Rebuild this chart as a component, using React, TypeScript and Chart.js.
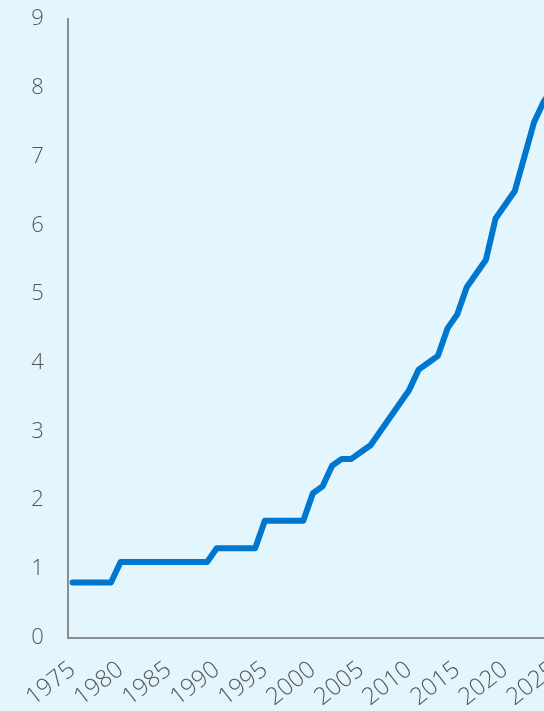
import React, { useEffect, useRef } from "react";
import { Chart, registerables } from "chart.js";

Chart.register(...registerables);

const years: string[] = [];
for (let y = 1975; y <= 2025; y++) years.push(String(y));

const values: number[] = [
  0.8, 0.8, 0.8, 0.8, 0.8, // 1975-1979
  1.1, 1.1, 1.1, 1.1, 1.1, 1.1, 1.1, 1.1, 1.1, 1.1, // 1980-1989
  1.3, 1.3, 1.3, 1.3, 1.3, // 1990-1994
  1.7, 1.7, 1.7, 1.7, 1.7, // 1995-1999
  2.1, 2.2, 2.5, 2.6, 2.6, // 2000-2004
  2.7, 2.8, 3.0, 3.2, 3.4, // 2005-2009
  3.6, 3.9, 4.0, 4.1, 4.5, // 2010-2014
  4.7, 5.1, 5.3, 5.5, 6.1, // 2015-2019
  6.3, 6.5, 7.0, 7.5, 7.8, // 2020-2024
  8.0, // 2025
];

const yMin = 0;
const yMax = 9;

const FAMILY = "'Open Sans', 'Noto Sans', sans-serif";
const Y_FONT = { family: FAMILY, size: 22, weight: 300 as any };
const X_FONT = { family: FAMILY, size: 24, weight: 300 as any };

export default function App() {
  const ref = useRef<HTMLCanvasElement | null>(null);

  useEffect(() => {
    if (!ref.current) return;
    const chart = new Chart(ref.current, {
      type: "line",
      data: {
        labels: years,
        datasets: [
          {
            data: values,
            borderColor: "#0077CF",
            borderWidth: 6,
            borderCapStyle: "round",
            borderJoinStyle: "round",
            pointRadius: 0,
            tension: 0,
            fill: false,
          },
        ],
      },
      options: {
        animation: false,
        responsive: true,
        maintainAspectRatio: false,
        layout: { padding: { left: 31, top: 0, right: 0, bottom: 0 } },
        plugins: { legend: { display: false }, tooltip: { enabled: false } },
        scales: {
          x: {
            type: "category",
            offset: true,
            grid: { display: false, drawTicks: false },
            border: { display: true, color: "#8c8c8c", width: 2 },
            ticks: {
              autoSkip: false,
              minRotation: 38,
              maxRotation: 38,
              padding: 18,
              color: "#555",
              font: X_FONT,
              callback: function (_v: any, i: number) {
                const y = Number(years[i]);
                return y % 5 === 0 ? years[i] : null;
              },
            },
          },
          y: {
            min: yMin,
            max: yMax,
            grid: { display: false, drawTicks: false },
            border: { display: true, color: "#8c8c8c", width: 2 },
            afterFit: (scale: any) => {
              scale.width = 36.7;
            },
            ticks: {
              stepSize: 1,
              padding: 24,
              color: "#555",
              font: Y_FONT,
            },
          },
        },
      },
    });
    return () => chart.destroy();
  }, []);

  return (
    <div
      style={{
        position: "fixed",
        left: 0,
        top: 0,
        width: 544,
        height: 711,
        overflow: "hidden",
        background: "#E3F5FD",
      }}
    >
      <div style={{ position: "absolute", left: 0, top: -18, width: 589, height: 748 }}>
        <canvas ref={ref} />
      </div>
    </div>
  );
}
